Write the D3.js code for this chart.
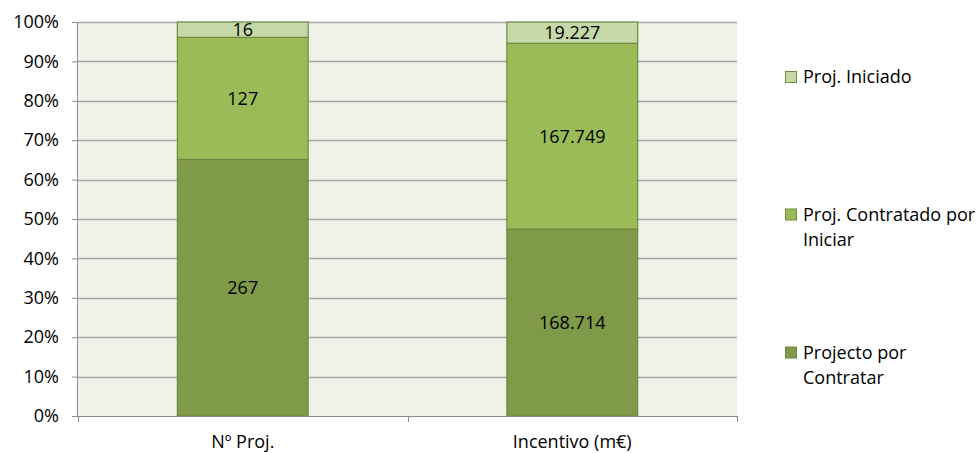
<!DOCTYPE html>
<html><head><meta charset="utf-8">
<script src="https://cdn.jsdelivr.net/npm/d3@7"></script>
<style>body{margin:0;background:#fff}svg{display:block}text{font-family:"Open Sans",sans-serif}</style>
</head><body><svg id="c" width="979" height="453"></svg>
<script>
const categories = ["Nº Proj.", "Incentivo (m€)"];
const seriesNames = ["Projecto por Contratar", "Proj. Contratado por Iniciar", "Proj. Iniciado"];
const porContratar = [267, 168714];
const contratadoPorIniciar = [127, 167749];
const iniciado = [16, 19227];
const yTicks = [0, 0.1, 0.2, 0.3, 0.4, 0.5, 0.6, 0.7, 0.8, 0.9, 1.0];
const legendLines = [["Proj. Iniciado"], ["Proj. Contratado por", "Iniciar"], ["Projecto por", "Contratar"]];
const colors = ["#7F9A48", "#9BBB59", "#C6D7A8"];

const FS = 18, FF = "Open Sans";
const svg = d3.select("#c");
const L = 78, R = 737, T = 22, B = 416;
const x = d3.scaleBand().domain(categories).range([L, R]).paddingInner(0.6).paddingOuter(0.3);
const y = d3.scaleLinear().domain([0, 1]).range([B, T]);
const fmt = d3.formatLocale({decimal: ",", thousands: ".", grouping: [3], currency: ["", "€"]}).format(",d");

svg.append("rect").attr("x", L).attr("y", T).attr("width", R - L).attr("height", B - T).attr("fill", "#EFF2E9");

// gridlines
svg.append("g").selectAll("line").data(yTicks.slice(1)).join("line")
  .attr("x1", L).attr("x2", R).attr("y1", d => Math.round(y(d)) + 0.5).attr("y2", d => Math.round(y(d)) + 0.5)
  .attr("stroke", "#A6A6A6").attr("stroke-width", 1.3);

const data = categories.map((c, i) => ({cat: c, vals: [porContratar[i], contratadoPorIniciar[i], iniciado[i]]}));
const seg = [];
data.forEach(d => {
  const tot = d3.sum(d.vals); let acc = 0;
  d.vals.forEach((v, j) => { seg.push({cat: d.cat, j, v, y0: acc / tot, y1: (acc + v) / tot}); acc += v; });
});
svg.append("g").selectAll("rect").data(seg).join("rect")
  .attr("x", d => x(d.cat) + 0.5).attr("width", x.bandwidth() - 1)
  .attr("y", d => y(d.y1)).attr("height", d => y(d.y0) - y(d.y1))
  .attr("fill", d => colors[d.j]).attr("stroke", "#71893F").attr("stroke-width", 1.2);
svg.append("g").selectAll("text").data(seg).join("text")
  .attr("x", d => x(d.cat) + x.bandwidth() / 2).attr("y", d => (y(d.y0) + y(d.y1)) / 2)
  .attr("dy", "0.36em").attr("text-anchor", "middle").attr("font-size", FS).attr("fill", "#000")
  .text(d => fmt(d.v));

// y axis
const ya = svg.append("g").attr("transform", `translate(${L},0)`)
  .call(d3.axisLeft(y).tickValues(yTicks).tickFormat(d3.format(".0%")).tickSize(6).tickPadding(13));
ya.select(".domain").attr("stroke", "#8C8C8C").attr("d", `M-0.5,${B}V${T}`);
ya.selectAll(".tick line").attr("stroke", "#8C8C8C");
ya.selectAll(".tick text").attr("font-size", FS).attr("fill", "#000").attr("font-family", FF);

// x axis
const xa = svg.append("g").attr("transform", `translate(0,${B})`)
  .call(d3.axisBottom(x).tickSize(0).tickPadding(19));
xa.select(".domain").attr("stroke", "#8C8C8C").attr("d", `M${L},0.5H${R}`);
xa.selectAll(".tick text").attr("font-size", FS).attr("fill", "#000").attr("font-family", FF);
const bounds = [L, (x(categories[0]) + x.bandwidth() + x(categories[1])) / 2, R];
svg.append("g").selectAll("line").data(bounds).join("line")
  .attr("x1", d => Math.round(d) + 0.5).attr("x2", d => Math.round(d) + 0.5)
  .attr("y1", B).attr("y2", B + 6).attr("stroke", "#8C8C8C");

// legend
const legY = [77, 227, 365];
const lg = svg.append("g").selectAll("g").data(legendLines).join("g")
  .attr("transform", (d, i) => `translate(785,${legY[i]})`);
lg.append("rect").attr("x", 0.5).attr("width", 11).attr("height", 11)
  .attr("y", d => -((d.length - 1) * 25) / 2 - 5.5)
  .attr("fill", (d, i) => colors[2 - i]).attr("stroke", "#71893F");
lg.each(function(d) {
  const g = d3.select(this);
  const off = -((d.length - 1) * 25) / 2;
  d.forEach((t, k) => g.append("text").attr("x", 18).attr("y", off + k * 25).attr("dy", "0.36em")
    .attr("font-size", FS).attr("fill", "#000").text(t));
});
</script></body></html>
